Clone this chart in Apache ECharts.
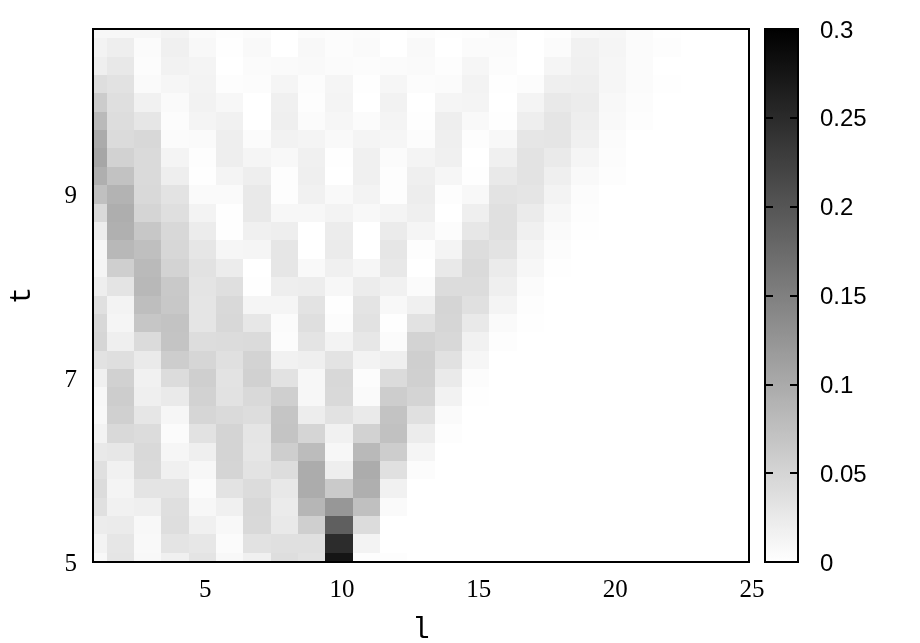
<!DOCTYPE html>
<html>
<head>
<meta charset="utf-8">
<title>t vs l</title>
<style>
  html, body { margin: 0; padding: 0; background: #fff; }
  #chart { width: 920px; height: 643px; }
</style>
<script src="https://cdn.jsdelivr.net/npm/echarts@6/dist/echarts.min.js"></script>
</head>
<body>
<div id="chart"></div>
<script>
const lValues = [1, 2, 3, 4, 5, 6, 7, 8, 9, 10, 11, 12, 13, 14, 15, 16, 17, 18, 19, 20, 21, 22, 23, 24, 25];
const tValues = [10.8, 10.6, 10.4, 10.2, 10, 9.8, 9.6, 9.4, 9.2, 9, 8.8, 8.6, 8.4, 8.2, 8, 7.8, 7.6, 7.4, 7.2, 7, 6.8, 6.6, 6.4, 6.2, 6, 5.8, 5.6, 5.4, 5.2, 5];
const lTicks = [5, 10, 15, 20, 25];
const tTicks = [5, 7, 9];

// in thousandths, one row per t from the top down
// the rows stop where the cells go white
const rows = [
  [9, 9, 9, 14, 6, 2, 5, 0, 5, 4, 5, 0, 4, 1, 2, 6, 0, 2, 9, 11, 5, 1],
  [14, 20, 5, 18, 8, 1, 7, 0, 8, 4, 6, 0, 7, 0, 5, 5, 0, 5, 16, 12, 5, 2],
  [19, 27, 4, 15, 13, 0, 5, 6, 7, 5, 4, 5, 6, 2, 11, 4, 0, 12, 18, 11, 5],
  [39, 34, 6, 11, 14, 2, 4, 12, 4, 12, 1, 11, 4, 5, 14, 1, 4, 19, 20, 11, 5, 1],
  [60, 38, 16, 6, 15, 9, 0, 18, 2, 13, 0, 15, 0, 12, 13, 0, 13, 26, 22, 8, 4],
  [81, 40, 29, 4, 13, 16, 0, 19, 5, 11, 5, 13, 1, 20, 7, 1, 20, 31, 20, 7, 2],
  [99, 42, 46, 5, 6, 20, 5, 15, 13, 7, 13, 11, 4, 19, 2, 8, 29, 31, 18, 5],
  [105, 53, 44, 13, 2, 20, 12, 8, 18, 1, 18, 5, 13, 18, 0, 18, 33, 25, 12, 4],
  [94, 72, 44, 20, 1, 13, 20, 2, 19, 0, 18, 2, 19, 11, 1, 26, 33, 19, 7, 2],
  [74, 89, 45, 33, 6, 6, 26, 2, 16, 7, 14, 2, 21, 2, 8, 33, 31, 14, 4],
  [44, 95, 49, 38, 14, 1, 26, 9, 9, 14, 8, 13, 19, 0, 19, 36, 24, 9, 2],
  [21, 93, 66, 46, 22, 1, 18, 20, 0, 22, 0, 24, 12, 4, 28, 36, 18, 6, 1],
  [11, 84, 75, 47, 29, 11, 12, 29, 0, 24, 0, 29, 2, 13, 40, 33, 13, 4],
  [12, 56, 81, 52, 34, 22, 0, 29, 7, 18, 11, 27, 0, 26, 44, 24, 9, 1],
  [20, 32, 84, 64, 32, 38, 1, 20, 21, 9, 22, 16, 5, 41, 41, 19, 5],
  [36, 14, 76, 65, 31, 45, 12, 12, 33, 1, 32, 8, 18, 49, 36, 13, 2],
  [46, 12, 67, 71, 31, 46, 28, 5, 38, 4, 34, 1, 34, 48, 26, 6, 1],
  [48, 19, 42, 69, 40, 41, 42, 4, 32, 14, 28, 5, 52, 46, 16, 2],
  [34, 38, 25, 59, 48, 36, 52, 16, 19, 33, 14, 19, 56, 35, 11],
  [18, 54, 16, 41, 56, 33, 54, 34, 9, 46, 4, 42, 55, 25, 4],
  [9, 59, 19, 25, 53, 34, 45, 56, 9, 45, 6, 59, 51, 15, 1],
  [8, 55, 29, 11, 48, 44, 40, 68, 21, 34, 25, 71, 36, 6],
  [14, 45, 41, 5, 34, 51, 31, 69, 49, 16, 53, 73, 22, 2],
  [26, 28, 45, 11, 19, 51, 29, 58, 79, 9, 82, 59, 12],
  [36, 16, 44, 18, 9, 49, 33, 40, 98, 20, 98, 36, 4],
  [41, 13, 32, 32, 5, 33, 41, 27, 98, 62, 94, 16],
  [36, 16, 19, 38, 9, 18, 46, 24, 86, 122, 74, 6],
  [22, 24, 8, 39, 18, 8, 45, 26, 56, 188, 41],
  [14, 29, 7, 32, 28, 5, 34, 36, 36, 248, 14],
  [8, 31, 8, 18, 32, 8, 18, 39, 34, 275, 2, 2]
];

const cells = [];
rows.forEach((row, r) => {
  row.forEach((v, c) => {
    cells.push([lValues[c], tValues[r], v / 1000]);
  });
});

// snap to pixels so there are no seams between cells
// toFixed first, t + 0.1 and t - 0.1 can differ in the last float digit
const snap = (px) => Math.round(Number(px.toFixed(3)));

const chart = echarts.init(document.getElementById('chart'), null, { renderer: 'canvas' });

const option = {
  animation: false,
  backgroundColor: '#fff',
  grid: [
    { left: 93, top: 29, width: 656, height: 533, show: true, z: 5, outerBoundsMode: 'none', borderColor: '#000', borderWidth: 2, backgroundColor: 'transparent' },
    { left: 765, top: 29, width: 33, height: 533, show: true, z: 5, outerBoundsMode: 'none', borderColor: '#000', borderWidth: 2, backgroundColor: 'transparent' }
  ],
  xAxis: [
    {
      type: 'value',
      min: 1,
      max: 25,
      name: 'l',
      nameLocation: 'middle',
      nameGap: 54,
      nameTextStyle: { fontFamily: 'Liberation Mono', fontSize: 29, color: '#000' },
      axisLine: { show: false },
      axisTick: { show: false },
      splitLine: { show: false },
      axisLabel: {
        customValues: lTicks,
        margin: 16,
        padding: [0, 0, 0, 6],
        fontFamily: 'Liberation Serif',
        fontSize: 25,
        color: '#000'
      }
    },
    { type: 'value', gridIndex: 1, show: false, min: 0, max: 1 }
  ],
  yAxis: [
    {
      type: 'value',
      min: 5,
      max: 10.8,
      name: 't',
      nameLocation: 'middle',
      nameRotate: 90,
      nameGap: 56,
      nameTextStyle: { fontFamily: 'Liberation Mono', fontSize: 29, color: '#000' },
      axisLine: { show: false },
      axisTick: { show: false },
      splitLine: { show: false },
      axisLabel: {
        customValues: tTicks,
        margin: 16,
        verticalAlign: 'top',
        padding: [-10, 0, 0, 0],
        fontFamily: 'Liberation Serif',
        fontSize: 25,
        color: '#000'
      }
    },
    {
      type: 'value',
      gridIndex: 1,
      position: 'right',
      min: 0,
      max: 0.3,
      interval: 0.05,
      z: 6,
      axisLine: { show: false, onZero: false },
      axisTick: { show: true, inside: true, length: 8, lineStyle: { color: '#000', width: 2 } },
      splitLine: { show: false },
      axisLabel: { margin: 22, verticalAlign: 'top', padding: [-10, 0, 0, 0], fontFamily: 'Liberation Sans', fontSize: 24, color: '#000' }
    },
    {
      type: 'value',
      gridIndex: 1,
      position: 'left',
      min: 0,
      max: 0.3,
      interval: 0.05,
      z: 6,
      axisLine: { show: false, onZero: false },
      axisTick: { show: true, inside: true, length: 8, lineStyle: { color: '#000', width: 2 } },
      splitLine: { show: false },
      axisLabel: { show: false }
    }
  ],
  visualMap: {
    type: 'continuous',
    min: 0,
    max: 0.3,
    dimension: 2,
    seriesIndex: 0,
    calculable: false,
    left: 765,
    top: 29,
    padding: 0,
    itemWidth: 33,
    itemHeight: 533,
    inRange: { color: ['#ffffff', '#000000'] }
  },
  series: [
    {
      type: 'custom',
      coordinateSystem: 'cartesian2d',
      xAxisIndex: 0,
      yAxisIndex: 0,
      z: 1,
      clip: true,
      data: cells,
      renderItem: function (params, api) {
        const l = api.value(0);
        const t = api.value(1);
        const a = api.coord([l - 0.5, t + 0.1]);
        const b = api.coord([l + 0.5, t - 0.1]);
        const x = snap(a[0]);
        const y = snap(a[1]);
        return {
          type: 'rect',
          shape: { x: x, y: y, width: snap(b[0]) - x, height: snap(b[1]) - y },
          style: { fill: api.visual('color') }
        };
      }
    }
  ]
};

chart.setOption(option);
</script>
</body>
</html>
